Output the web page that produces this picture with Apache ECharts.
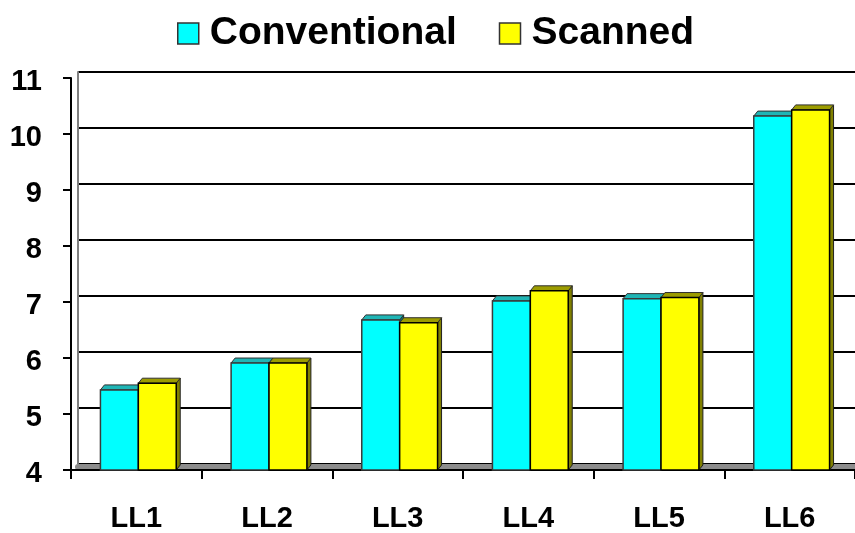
<!DOCTYPE html>
<html>
<head>
<meta charset="utf-8">
<script src="https://cdn.jsdelivr.net/npm/echarts@6/dist/echarts.min.js"></script>
<style>
  html, body { margin: 0; padding: 0; background: #fff; }
  #chart { width: 855px; height: 533px; }
</style>
</head>
<body>
<div id="chart"></div>
<script>
// Categories and series values
const categories = ['LL1', 'LL2', 'LL3', 'LL4', 'LL5', 'LL6'];
const conventional = [5.43, 5.91, 6.68, 7.02, 7.06, 10.32];
const scanned = [5.55, 5.91, 6.63, 7.20, 7.08, 10.43];
const yTicks = [4, 5, 6, 7, 8, 9, 10, 11];

const FONT = "'Liberation Sans', Arial, sans-serif";
const Y_MIN = yTicks[0], Y_MAX = yTicks[yTicks.length - 1];
const DX = 4, DY = 5;          // depth of each column
const SHIFT = 2;               // columns sit slightly right of band centre
const BAR_FRAC = 0.29;         // column width as a share of the band

const palette = {
  Conventional: { front: '#00FFFF', top: '#1FB5B5', side: '#008080', edge: '#3a3a3a' },
  Scanned:      { front: '#FFFF00', top: '#9C9C00', side: '#808000', edge: '#000000' }
};

// Draws a 3D-looking column: front face, top face, right side face
function makeRenderer(name, leftOfCentre) {
  const c = palette[name];
  return function (params, api) {
    const cat = api.value(0), val = api.value(1);
    const top = api.coord([cat, val]);
    const base = api.coord([cat, Y_MIN]);
    const band = api.size([1, 0])[0];
    const bw = band * BAR_FRAC;
    const x0 = top[0] + SHIFT + (leftOfCentre ? -bw : 0);
    const x1 = x0 + bw;
    const yt = top[1], yb = base[1];
    return {
      type: 'group',
      children: [
        { type: 'polygon',
          shape: { points: [[x1, yt], [x1 + DX, yt - DY], [x1 + DX, yb - DY], [x1, yb]] },
          style: { fill: c.side, stroke: '#202020', lineWidth: 1 } },
        { type: 'polygon',
          shape: { points: [[x0, yt], [x0 + DX, yt - DY], [x1 + DX, yt - DY], [x1, yt]] },
          style: { fill: c.top, stroke: '#303030', lineWidth: 1 } },
        { type: 'rect',
          shape: { x: x0, y: yt, width: bw, height: yb - yt },
          style: { fill: c.front, stroke: c.edge, lineWidth: 1.5 } }
      ]
    };
  };
}

const chart = echarts.init(document.getElementById('chart'), null, { renderer: 'canvas' });

chart.setOption({
  animation: false,
  backgroundColor: '#fff',
  textStyle: { fontFamily: FONT },
  legend: {
    left: 172,
    top: 9,
    itemWidth: 21,
    itemHeight: 21,
    itemGap: 42,
    icon: 'rect',
    textStyle: { fontFamily: FONT, fontSize: 39, fontWeight: 'bold', color: '#000', padding: [0, 0, 0, 6] },
    data: [
      { name: 'Conventional', itemStyle: { color: palette.Conventional.front, borderColor: '#333', borderWidth: 1.5 } },
      { name: 'Scanned', itemStyle: { color: palette.Scanned.front, borderColor: '#333', borderWidth: 1.5 } }
    ]
  },
  grid: [
    // back wall (gridlines and floor)
    { left: 78, right: 0, top: 72, bottom: 69 },
    // front plane (axes and columns)
    { left: 71, right: 0, top: 78, bottom: 63 }
  ],
  xAxis: [
    { gridIndex: 0, type: 'category', data: categories, offset: 3,
      axisLine: { show: true, lineStyle: { color: '#8c8c8c', width: 6 } },
      axisTick: { show: false }, axisLabel: { show: false }, splitLine: { show: false } },
    { gridIndex: 1, type: 'category', data: categories,
      axisLine: { show: true, lineStyle: { color: '#000', width: 2 } },
      axisTick: { show: true, length: 9, lineStyle: { color: '#000', width: 2 } },
      axisLabel: { fontFamily: FONT, fontSize: 29, fontWeight: 'bold', color: '#000', margin: 34 },
      splitLine: { show: false } }
  ],
  yAxis: [
    { gridIndex: 0, type: 'value', min: Y_MIN, max: Y_MAX, interval: 1,
      axisLine: { show: true, lineStyle: { color: '#808080', width: 2 } },
      axisTick: { show: false }, axisLabel: { show: false },
      splitLine: { show: true, lineStyle: { color: '#000', width: 2 } } },
    { gridIndex: 1, type: 'value', min: Y_MIN, max: Y_MAX, interval: 1,
      axisLine: { show: true, lineStyle: { color: '#000', width: 2 } },
      axisTick: { show: true, length: 8, lineStyle: { color: '#000', width: 2 } },
      axisLabel: { margin: 29, formatter: '{v|{value}}',
                   rich: { v: { fontFamily: FONT, fontSize: 29, fontWeight: 'bold', color: '#000',
                                padding: [8, 0, 0, 0] } } },
      splitLine: { show: false } }
  ],
  series: [
    { name: 'Conventional', type: 'custom', xAxisIndex: 1, yAxisIndex: 1,
      itemStyle: { color: palette.Conventional.front },
      renderItem: makeRenderer('Conventional', true),
      encode: { x: 0, y: 1 },
      data: conventional.map((v, i) => [i, v]), z: 3 },
    { name: 'Scanned', type: 'custom', xAxisIndex: 1, yAxisIndex: 1,
      itemStyle: { color: palette.Scanned.front },
      renderItem: makeRenderer('Scanned', false),
      encode: { x: 0, y: 1 },
      data: scanned.map((v, i) => [i, v]), z: 4 }
  ]
});
</script>
</body>
</html>
